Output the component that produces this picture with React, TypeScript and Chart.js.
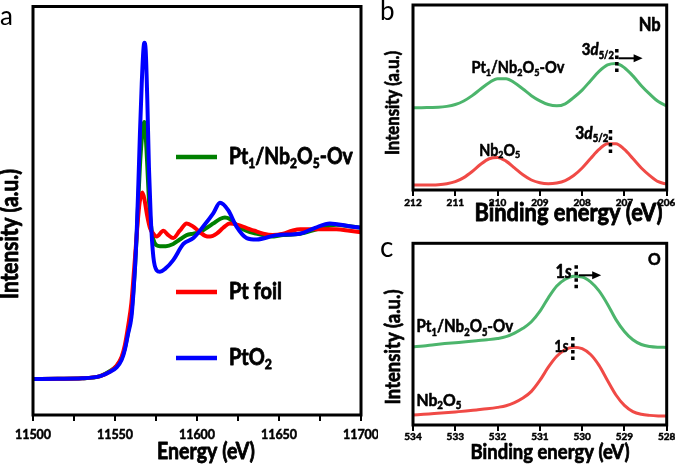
import React, { useEffect, useRef } from 'react';
import { Chart, registerables } from 'chart.js';
Chart.register(...registerables);

const FONT = 'Lato, "Open Sans", sans-serif';

// ---------- Panel a: Pt L3-edge XANES ----------
const xanesMin = 11500;
const xanesMax = 11700;
const ptO2Energy = [11500, 11515, 11530, 11541, 11547, 11551, 11554, 11556, 11558, 11560, 11561.2, 11562.2, 11563.2, 11564.2, 11565.2, 11566.3, 11567.3, 11567.9, 11568.7, 11569.7, 11570.7, 11571.8, 11573.4, 11575.4, 11577.4, 11580.5, 11585.5, 11591.7, 11597.8, 11603.9, 11610, 11614, 11619, 11624, 11630.3, 11636.4, 11648.6, 11662.8, 11672, 11681, 11693, 11700];
const ptO2Values = [0, 0.002, 0.005, 0.02, 0.05, 0.08, 0.13, 0.2, 0.31, 0.42, 0.58, 0.76, 0.99, 1.31, 1.67, 2.01, 2.24, 2.29, 2.24, 1.9, 1.44, 1.1, 0.83, 0.74, 0.73, 0.75, 0.81, 0.92, 0.96, 1.04, 1.13, 1.2, 1.15, 1.04, 0.96, 0.95, 0.98, 0.99, 1.03, 1.06, 1.04, 1.03];
const pt1Energy = [11500, 11515, 11530, 11541, 11547, 11551, 11554, 11556, 11558, 11560, 11561.2, 11562.2, 11563.2, 11564.2, 11565.2, 11566.3, 11567.3, 11567.9, 11568.7, 11569.7, 11570.7, 11571.8, 11573.4, 11575.4, 11577.4, 11581, 11585.5, 11589.5, 11593.7, 11597.8, 11601.8, 11606, 11610, 11614, 11617, 11620, 11624, 11628, 11632.3, 11636, 11640.4, 11645, 11652.4, 11663, 11673, 11685, 11693, 11700];
const pt1Values = [0, 0.002, 0.005, 0.02, 0.055, 0.09, 0.14, 0.21, 0.32, 0.45, 0.6, 0.76, 0.97, 1.22, 1.45, 1.63, 1.73, 1.75, 1.66, 1.45, 1.22, 1.06, 0.95, 0.91, 0.905, 0.905, 0.92, 0.95, 0.98, 0.99, 1.0, 1.03, 1.06, 1.09, 1.1, 1.09, 1.05, 1.02, 1.0, 0.99, 0.98, 0.97, 0.98, 0.99, 1.02, 1.05, 1.04, 1.03];
const ptFoilEnergy = [11500, 11515, 11530, 11541, 11547, 11551, 11554, 11556, 11558, 11560, 11562, 11563.5, 11565, 11566.7, 11568, 11569.5, 11571.3, 11573.4, 11575.4, 11579.5, 11582.5, 11585.5, 11589.5, 11593.7, 11597.5, 11601.8, 11605, 11608, 11612, 11616, 11620, 11625, 11630, 11635, 11640.4, 11646, 11652.6, 11658, 11663, 11673, 11685, 11693, 11700];
const ptFoilValues = [0, 0.002, 0.005, 0.02, 0.05, 0.09, 0.15, 0.23, 0.36, 0.52, 0.8, 1.02, 1.2, 1.27, 1.22, 1.12, 1.03, 0.99, 0.97, 1.01, 0.98, 0.96, 1.01, 1.06, 1.04, 1.0, 0.975, 0.97, 0.99, 1.03, 1.06, 1.05, 1.03, 1.01, 0.99, 0.98, 0.99, 1.01, 1.02, 1.02, 1.02, 1.01, 1.0];

// ---------- Panel b: Nb 3d XPS ----------
const nbEnergy = [212, 211.8, 211.6, 211.4, 211.2, 211, 210.8, 210.6, 210.4, 210.2, 210, 209.8, 209.6, 209.4, 209.2, 209, 208.8, 208.6, 208.4, 208.2, 208, 207.8, 207.6, 207.4, 207.2, 207, 206.8, 206.6, 206.4, 206.2, 206];
const nbPt1Values = [44.5, 44.5, 44.6, 44.7, 45.2, 46.2, 48.1, 51.0, 54.6, 58.0, 60.2, 60.2, 58.0, 54.6, 51.0, 48.2, 46.2, 45.5, 46.6, 50.0, 54.0, 59.1, 64.1, 67.6, 68.4, 66.1, 61.7, 56.4, 51.8, 47.8, 45.5];
const nbRefValues = [2.7, 2.7, 2.75, 2.9, 3.4, 4.5, 6.7, 10.0, 13.9, 16.9, 17.6, 15.6, 12.0, 8.2, 5.4, 3.9, 3.4, 3.8, 5.1, 7.8, 11.9, 17.0, 21.9, 25.0, 25.0, 21.9, 17.0, 11.9, 7.8, 4.5, 3.2];

// ---------- Panel c: O 1s XPS ----------
const oEnergy = [534, 533.75, 533.5, 533.25, 533, 532.75, 532.5, 532.25, 532, 531.8, 531.6, 531.4, 531.2, 531, 530.8, 530.6, 530.4, 530.2, 530, 529.8, 529.6, 529.4, 529.2, 529, 528.8, 528.6, 528.4, 528.2, 528];
const oPt1Values = [43.0, 43.5, 44.2, 44.8, 45.3, 45.8, 46.4, 46.9, 47.6, 48.6, 50.6, 53.2, 56.8, 62.5, 70.0, 76.5, 80.2, 81.8, 81.5, 78.8, 73.8, 66.5, 58.0, 51.5, 46.9, 44.3, 43.2, 42.8, 42.7];
const oRefValues = [5.5, 5.9, 6.3, 6.7, 7.2, 7.7, 8.3, 8.9, 9.7, 10.6, 12.3, 14.8, 18.5, 24.5, 31.8, 37.8, 41.5, 42.8, 42.0, 38.8, 32.8, 24.5, 16.5, 10.8, 7.4, 5.9, 5.3, 5.0, 4.9];

const GREEN_A = '#008000';
const RED_A = '#ff0000';
const BLUE_A = '#0000ff';
const GREEN_B = '#4cb56c';
const RED_B = '#f04a46';

type Part = { t: string; sub?: boolean; it?: boolean };
const PT1_LABEL: Part[] = [{ t: 'Pt' }, { t: '1', sub: true }, { t: '/Nb' }, { t: '2', sub: true }, { t: 'O' }, { t: '5', sub: true }, { t: '-Ov' }];
const NB2O5_LABEL: Part[] = [{ t: 'Nb' }, { t: '2', sub: true }, { t: 'O' }, { t: '5', sub: true }];
const D52_LABEL: Part[] = [{ t: '3' }, { t: 'd', it: true }, { t: '5/2', sub: true }];
const S1_LABEL: Part[] = [{ t: '1' }, { t: 's', it: true }];

const NARROW = 1.14;

function fontStr(size: number, weight: string, italic?: boolean) {
  return `${italic ? 'italic ' : ''}${weight} ${size}px ${FONT}`;
}
function richWidth(ctx: CanvasRenderingContext2D, parts: Part[], size: number, weight: string) {
  let w = 0;
  for (const p of parts) {
    ctx.font = fontStr(p.sub ? size * 0.62 : size, weight, p.it);
    w += ctx.measureText(p.t).width;
  }
  return w;
}
function drawRich(ctx: CanvasRenderingContext2D, parts: Part[], x: number, y: number, size: number, weight: string, align: string, color = '#000') {
  const w = richWidth(ctx, parts, size, weight);
  let cx = align === 'center' ? x - w / 2 : align === 'right' ? x - w : x;
  ctx.fillStyle = color;
  ctx.strokeStyle = color;
  ctx.lineWidth = weight === 'bold' ? Math.max(0.4, size * 0.035) : 0;
  ctx.lineJoin = 'round';
  ctx.textBaseline = 'middle';
  ctx.textAlign = 'left';
  for (const p of parts) {
    const s = p.sub ? size * 0.62 : size;
    ctx.font = fontStr(s, weight, p.it);
    const yy = p.sub ? y + size * 0.3 : y;
    ctx.fillText(p.t, cx, yy);
    if (weight === 'bold') ctx.strokeText(p.t, cx, yy);
    cx += ctx.measureText(p.t).width;
  }
}
// Draws text so that it spans targetW pixels; the glyphs are slightly condensed
// to mimic the narrow face of the original figure.
function drawFit(ctx: CanvasRenderingContext2D, parts: Part[], x: number, y: number, targetW: number, align: string, weight = 'bold', rotate = false) {
  const w1 = richWidth(ctx, parts, 100, weight);
  const size = ((100 * targetW) / w1) * NARROW;
  ctx.save();
  ctx.translate(x, y);
  if (rotate) ctx.rotate(-Math.PI / 2);
  ctx.scale(1 / NARROW, 1);
  drawRich(ctx, parts, 0, 0, size, weight, align);
  ctx.restore();
}
function drawFrame(chart: any) {
  const { ctx, chartArea: ca } = chart;
  ctx.save();
  ctx.strokeStyle = '#000';
  ctx.lineWidth = 3;
  ctx.strokeRect(ca.left, ca.top, ca.right - ca.left, ca.bottom - ca.top);
  ctx.restore();
}
function drawDotted(ctx: CanvasRenderingContext2D, x: number, y1: number, y2: number) {
  ctx.save();
  ctx.strokeStyle = '#000';
  ctx.lineWidth = 3.5;
  ctx.setLineDash([3.5, 3]);
  ctx.beginPath();
  ctx.moveTo(x, y1);
  ctx.lineTo(x, y2);
  ctx.stroke();
  ctx.restore();
}
function drawArrow(ctx: CanvasRenderingContext2D, x1: number, y: number, x2: number) {
  ctx.save();
  ctx.strokeStyle = '#000';
  ctx.fillStyle = '#000';
  ctx.lineWidth = 2;
  ctx.beginPath();
  ctx.moveTo(x1, y);
  ctx.lineTo(x2 - 6, y);
  ctx.stroke();
  ctx.beginPath();
  ctx.moveTo(x2, y);
  ctx.lineTo(x2 - 9, y - 4);
  ctx.lineTo(x2 - 9, y + 4);
  ctx.closePath();
  ctx.fill();
  ctx.restore();
}
function panelLetter(ctx: CanvasRenderingContext2D, letter: string, x: number, y: number, size: number) {
  ctx.save();
  ctx.font = `normal ${size}px ${FONT}`;
  ctx.fillStyle = '#000';
  ctx.textBaseline = 'alphabetic';
  ctx.textAlign = 'left';
  ctx.fillText(letter, x, y);
  ctx.restore();
}

const toPts = (xs: number[], ys: number[]) => xs.map((x, i) => ({ x, y: ys[i] }));

function lineDs(label: string, xs: number[], ys: number[], color: string, width: number) {
  return {
    label,
    data: toPts(xs, ys),
    borderColor: color,
    backgroundColor: color,
    borderWidth: width,
    pointRadius: 0,
    fill: false,
    cubicInterpolationMode: 'monotone' as const,
  };
}

function xScale(min: number, max: number, step: number, reverse: boolean, fontSize: number, tickPad: number, height: number, labelEvery: number) {
  return {
    type: 'linear' as const,
    min,
    max,
    reverse,
    ticks: {
      stepSize: step,
      autoSkip: false,
      maxRotation: 0,
      padding: tickPad,
      color: '#000',
      textStrokeColor: '#000',
      textStrokeWidth: 0.5,
      font: { family: FONT, weight: 'bold' as const, size: fontSize },
      callback: (v: any) => (Math.abs(v / labelEvery - Math.round(v / labelEvery)) < 1e-6 ? String(v) : ''),
    },
    grid: { drawOnChartArea: false, drawTicks: true, tickLength: 6, color: '#000', lineWidth: 2 },
    border: { display: false },
    afterFit: (s: any) => {
      s.height = height;
      s.paddingLeft = 0;
      s.paddingRight = 0;
    },
  };
}
function yScale(min: number, max: number) {
  return {
    type: 'linear' as const,
    min,
    max,
    ticks: { display: false },
    grid: { display: false },
    border: { display: false },
    afterFit: (s: any) => {
      s.width = 33;
    },
  };
}

function makeA() {
  const plugin = {
    id: 'panelA',
    afterDraw(chart: any) {
      const ctx = chart.ctx as CanvasRenderingContext2D;
      drawFrame(chart);
      drawFit(ctx, [{ t: 'Energy (eV)' }], 206, 452, 98, 'center');
      drawFit(ctx, [{ t: 'Intensity (a.u.)' }], 10, 234, 130, 'center', 'bold', true);
      const items: [string, Part[], number, number][] = [
        [GREEN_A, PT1_LABEL, 157, 124],
        [RED_A, [{ t: 'Pt foil' }], 292, 53],
        [BLUE_A, [{ t: 'PtO' }, { t: '2', sub: true }], 358, 43],
      ];
      for (const [c, parts, y, w] of items) {
        ctx.save();
        ctx.strokeStyle = c;
        ctx.lineWidth = 4.5;
        ctx.beginPath();
        ctx.moveTo(176, y);
        ctx.lineTo(217, y);
        ctx.stroke();
        ctx.restore();
        drawFit(ctx, parts, 229, y, w, 'left');
      }
      panelLetter(ctx, 'a', 0, 25, 26);
    },
  };
  return {
    type: 'line' as const,
    data: {
      datasets: [
        lineDs('PtO2', ptO2Energy, ptO2Values, BLUE_A, 4),
        lineDs('Pt foil', ptFoilEnergy, ptFoilValues, RED_A, 4),
        lineDs('Pt1/Nb2O5-Ov', pt1Energy, pt1Values, GREEN_A, 4),
      ],
    },
    options: {
      animation: false as const,
      responsive: false,
      maintainAspectRatio: false,
      layout: { padding: { top: 6.5, right: 17, left: 0, bottom: 0 } },
      plugins: { legend: { display: false }, tooltip: { enabled: false } },
      scales: {
        x: xScale(xanesMin, xanesMax, 25, false, 12.5, 6, 50, 50),
        y: yScale(-0.245, 2.537),
      },
    },
    plugins: [plugin],
  };
}

function makeB() {
  const plugin = {
    id: 'panelB',
    afterDraw(chart: any) {
      const ctx = chart.ctx as CanvasRenderingContext2D;
      const X = (v: number) => chart.scales.x.getPixelForValue(v);
      const Y = (v: number) => chart.scales.y.getPixelForValue(v);
      drawFrame(chart);
      drawFit(ctx, [{ t: 'Binding energy (eV)' }], 188.5, 213, 188, 'center');
      drawFit(ctx, [{ t: 'Intensity (a.u.)' }], 13, 103, 104, 'center', 'bold', true);
      drawFit(ctx, [{ t: 'Nb' }], chart.chartArea.right - 6, 25, 22, 'right');
      drawFit(ctx, PT1_LABEL, X(209.52), Y(66), 93, 'center');
      drawFit(ctx, NB2O5_LABEL, X(209.95), Y(21.5), 41, 'center');
      drawFit(ctx, D52_LABEL, X(207.25), Y(75.7), 32, 'right');
      drawFit(ctx, D52_LABEL, X(207.38), Y(30.6), 33, 'right');
      drawDotted(ctx, X(207.18), Y(76.2), Y(63.2));
      drawArrow(ctx, X(207.14), Y(71.2), X(206.57));
      drawDotted(ctx, X(207.33), Y(32.4), Y(19.5));
      panelLetter(ctx, 'b', 0, 20, 26);
    },
  };
  return {
    type: 'line' as const,
    data: {
      datasets: [
        lineDs('Pt1/Nb2O5-Ov', nbEnergy, nbPt1Values, GREEN_B, 3),
        lineDs('Nb2O5', nbEnergy, nbRefValues, RED_B, 3),
      ],
    },
    options: {
      animation: false as const,
      responsive: false,
      maintainAspectRatio: false,
      layout: { padding: { top: 5, right: 8.3, left: 0, bottom: 0 } },
      plugins: { legend: { display: false }, tooltip: { enabled: false } },
      scales: {
        x: xScale(206, 212, 1, true, 10, 1, 40, 1),
        y: yScale(0, 100),
      },
    },
    plugins: [plugin],
  };
}

function makeC() {
  const plugin = {
    id: 'panelC',
    afterDraw(chart: any) {
      const ctx = chart.ctx as CanvasRenderingContext2D;
      const X = (v: number) => chart.scales.x.getPixelForValue(v);
      const Y = (v: number) => chart.scales.y.getPixelForValue(v);
      drawFrame(chart);
      drawFit(ctx, [{ t: 'Binding energy (eV)' }], 170, 222, 159, 'center');
      drawFit(ctx, [{ t: 'Intensity (a.u.)' }], 13, 117, 115, 'center', 'bold', true);
      drawFit(ctx, [{ t: 'O' }], chart.chartArea.right - 6, 29.3, 12.7, 'right');
      drawFit(ctx, PT1_LABEL, X(533.92), Y(54), 97, 'left');
      drawFit(ctx, NB2O5_LABEL, X(533.92), Y(13.7), 45, 'left');
      drawFit(ctx, S1_LABEL, X(530.25), Y(84.2), 16, 'right');
      drawFit(ctx, S1_LABEL, X(530.33), Y(43), 14, 'right');
      drawDotted(ctx, X(530.14), Y(87.9), Y(74.6));
      drawArrow(ctx, X(530.08), Y(82.4), X(529.55));
      drawDotted(ctx, X(530.22), Y(48.5), Y(35.3));
      panelLetter(ctx, 'c', 0, 26.7, 28);
    },
  };
  return {
    type: 'line' as const,
    data: {
      datasets: [
        lineDs('Pt1/Nb2O5-Ov', oEnergy, oPt1Values, GREEN_B, 3),
        lineDs('Nb2O5', oEnergy, oRefValues, RED_B, 3),
      ],
    },
    options: {
      animation: false as const,
      responsive: false,
      maintainAspectRatio: false,
      layout: { padding: { top: 13.3, right: 8.3, left: 0, bottom: 0 } },
      plugins: { legend: { display: false }, tooltip: { enabled: false } },
      scales: {
        x: xScale(528, 534, 1, true, 10, 0, 40, 1),
        y: yScale(0, 100),
      },
    },
    plugins: [plugin],
  };
}

function ChartPanel({ make, left, top, width, height }: { make: () => any; left: number; top: number; width: number; height: number }) {
  const ref = useRef<HTMLCanvasElement>(null);
  useEffect(() => {
    const chart = new Chart(ref.current as HTMLCanvasElement, make());
    return () => chart.destroy();
  }, []);
  return <canvas ref={ref} width={width} height={height} style={{ position: 'absolute', left, top, width, height }} />;
}

export default function App() {
  return (
    <div style={{ position: 'absolute', left: 0, top: 0, width: 675, height: 465, background: '#fff', overflow: 'hidden' }}>
      <ChartPanel make={makeA} left={0} top={0} width={378} height={465} />
      <ChartPanel make={makeB} left={380} top={0} width={295} height={230} />
      <ChartPanel make={makeC} left={380} top={230} width={295} height={235} />
    </div>
  );
}
